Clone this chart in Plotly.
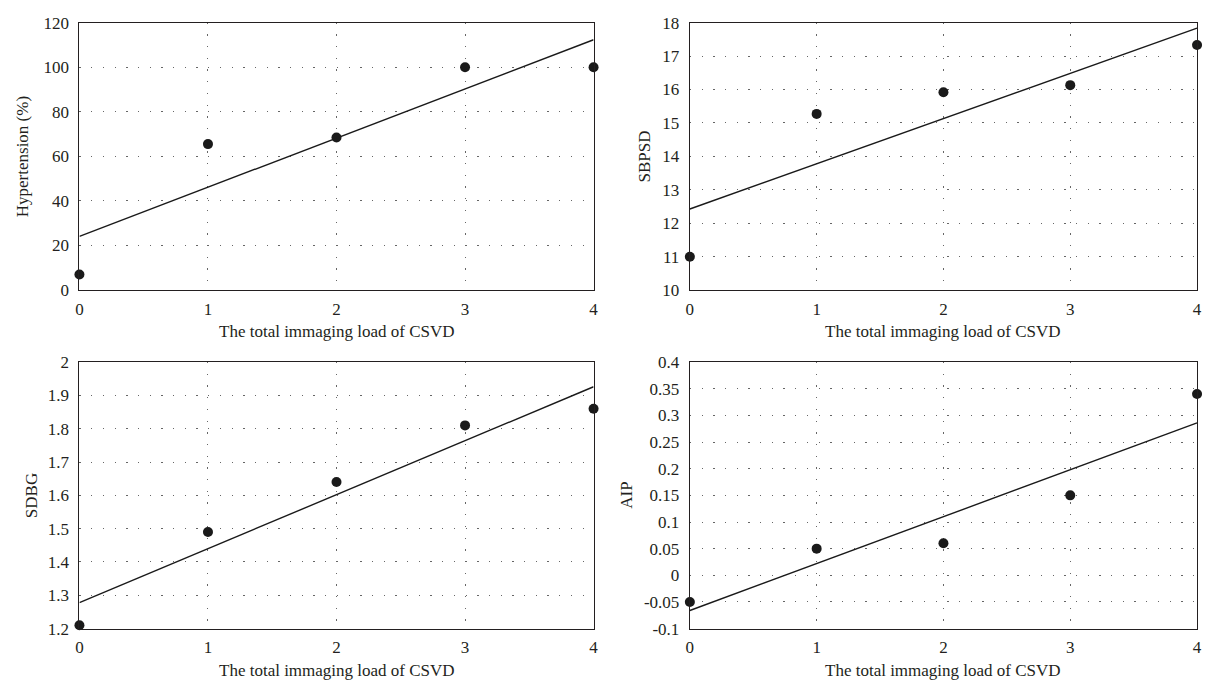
import numpy as np
import plotly.graph_objects as go

# ---- data ----
x_load = [0, 1, 2, 3, 4]
hypertension = [7, 65.5, 68.5, 100, 100]
sbpsd = [11.0, 15.27, 15.92, 16.13, 17.33]
sdbg = [1.21, 1.49, 1.64, 1.81, 1.86]
aip = [-0.05, 0.05, 0.06, 0.15, 0.34]

x_title = "The total immaging load of CSVD"
y_titles = ["Hypertension (%)", "SBPSD", "SDBG", "AIP"]

y_ticks_1 = [0, 20, 40, 60, 80, 100, 120]
y_ticks_2 = [10, 11, 12, 13, 14, 15, 16, 17, 18]
y_ticks_3 = [1.2, 1.3, 1.4, 1.5, 1.6, 1.7, 1.8, 1.9, 2.0]
y_ticks_4 = [-0.1, -0.05, 0, 0.05, 0.1, 0.15, 0.2, 0.25, 0.3, 0.35, 0.4]
y_labels_1 = ["0", "20", "40", "60", "80", "100", "120"]
y_labels_2 = ["10", "11", "12", "13", "14", "15", "16", "17", "18"]
y_labels_3 = ["1.2", "1.3", "1.4", "1.5", "1.6", "1.7", "1.8", "1.9", "2"]
y_labels_4 = ["-0.1", "-0.05", "0", "0.05", "0.1", "0.15", "0.2", "0.25", "0.3", "0.35", "0.4"]
x_ticks = [0, 1, 2, 3, 4]
x_labels = ["0", "1", "2", "3", "4"]

W, H = 1208, 696
FONT = "Liberation Serif"
TXT = "#231f20"
FS = 17

panels = [
    dict(y=hypertension, ticks=y_ticks_1, labels=y_labels_1, rng=[0, 120],
         px=(76, 594), py=(14, 289), ytx=18),
    dict(y=sbpsd, ticks=y_ticks_2, labels=y_labels_2, rng=[10, 18],
         px=(691, 1202), py=(14, 289), ytx=645),
    dict(y=sdbg, ticks=y_ticks_3, labels=y_labels_3, rng=[1.2, 2.0],
         px=(76, 594), py=(363, 637), ytx=28),
    dict(y=aip, ticks=y_ticks_4, labels=y_labels_4, rng=[-0.1, 0.4],
         px=(691, 1202), py=(363, 637), ytx=627),
]

fig = go.Figure()
annotations = []
for i, p in enumerate(panels):
    n = "" if i == 0 else str(i + 1)
    xa, ya = "x" + n, "y" + n
    slope, inter = np.polyfit(x_load, p["y"], 1)
    fit_x = [min(x_load), max(x_load)]
    fit_y = [inter + slope * v for v in fit_x]
    fig.add_trace(go.Scatter(x=fit_x, y=fit_y, mode="lines",
                             line=dict(color="#1a1a1a", width=1.4),
                             xaxis=xa, yaxis=ya, showlegend=False, hoverinfo="skip"))
    fig.add_trace(go.Scatter(x=x_load, y=p["y"], mode="markers",
                             marker=dict(color="#1a1a1a", size=10),
                             cliponaxis=False,
                             xaxis=xa, yaxis=ya, showlegend=False))
    x0, x1 = p["px"]
    y0, y1 = p["py"]
    common = dict(showline=True, linecolor="#231f20", linewidth=1.3, mirror=True,
                  showgrid=True, gridcolor="#666666", gridwidth=1,
                  griddash="1.3px,10.4px", zeroline=False, ticks="",
                  tickfont=dict(family=FONT, size=FS, color=TXT))
    fig.layout["xaxis" + n] = dict(
        domain=[x0 / W, x1 / W], anchor=ya, range=[0, 4],
        tickvals=x_ticks, ticktext=x_labels, ticklabelstandoff=3, **common)
    fig.layout["yaxis" + n] = dict(
        domain=[1 - y1 / H, 1 - y0 / H], anchor=xa, range=p["rng"],
        tickvals=p["ticks"], ticktext=p["labels"], ticklabelstandoff=6, **common)
    annotations.append(dict(text=y_titles[i], xref="paper", yref="paper",
                            x=p["ytx"] / W, y=1 - (y0 + y1) / 2 / H, textangle=-90,
                            showarrow=False, xanchor="center", yanchor="middle",
                            font=dict(family=FONT, size=FS, color=TXT)))
    annotations.append(dict(text=x_title, xref="paper", yref="paper",
                            x=(x0 + x1) / 2 / W, y=1 - (y1 + 43) / H,
                            showarrow=False, xanchor="center", yanchor="middle",
                            font=dict(family=FONT, size=FS, color=TXT)))

fig.update_layout(width=W, height=H, margin=dict(l=0, r=0, t=0, b=0),
                  paper_bgcolor="white", plot_bgcolor="white",
                  annotations=annotations, showlegend=False)
fig.write_html("out.html")
